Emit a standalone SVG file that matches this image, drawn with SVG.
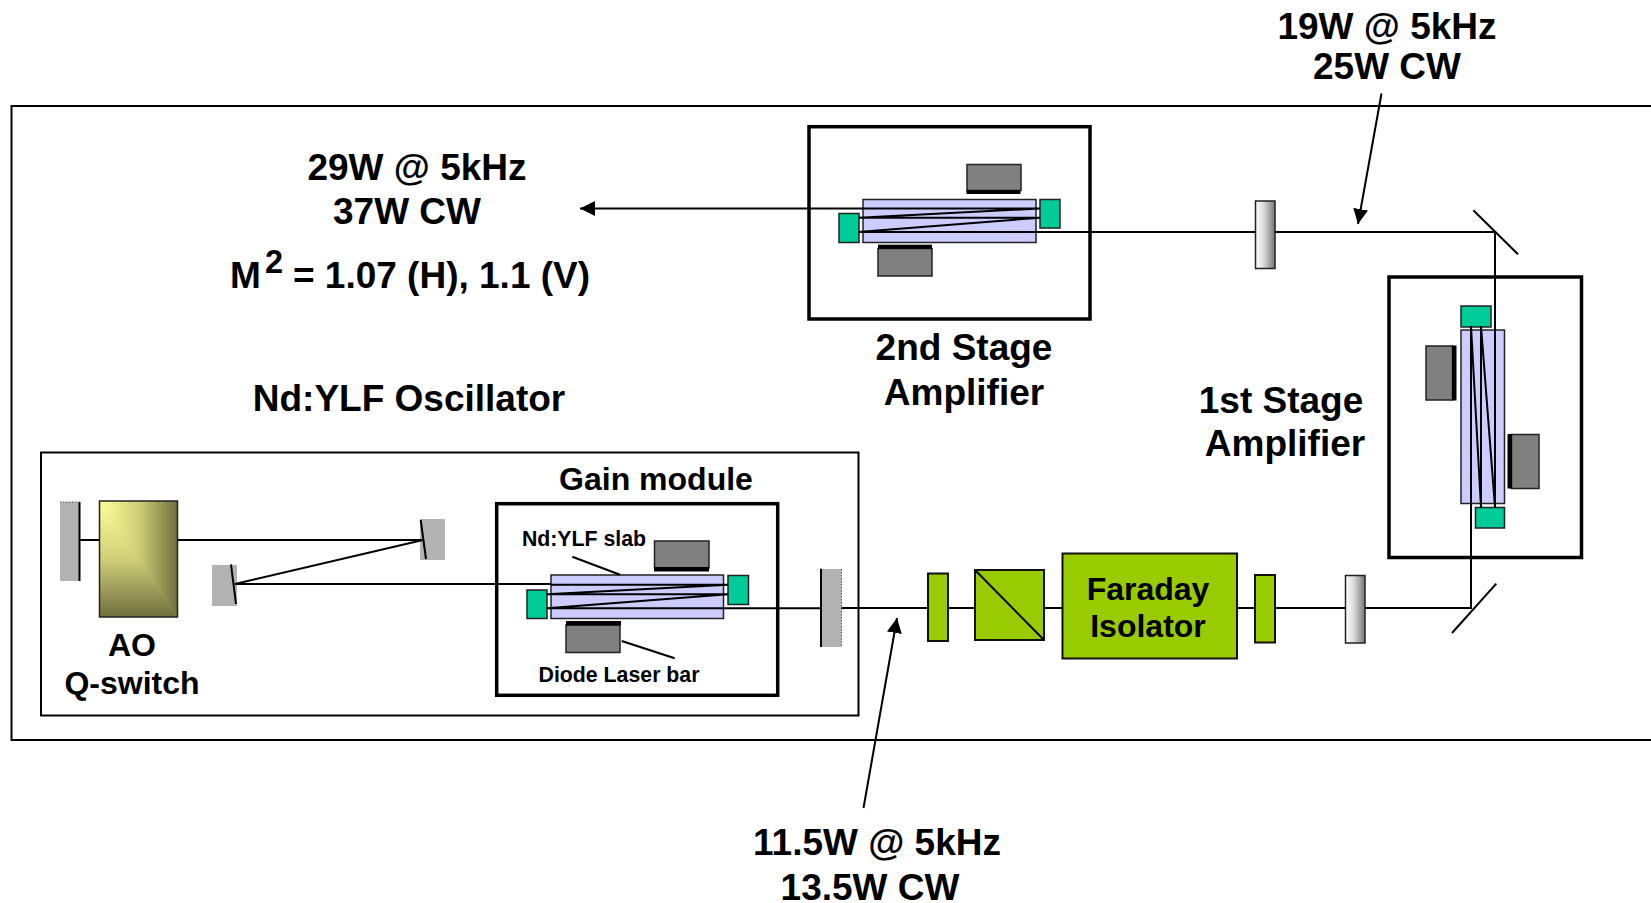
<svg xmlns="http://www.w3.org/2000/svg" width="1651" height="903" viewBox="0 0 1651 903">
<style>
text{font-family:"Liberation Sans",Arial,sans-serif;font-weight:700;fill:#000;text-anchor:middle}
.big{font-size:37px}.mid{font-size:32px}.sm{font-size:21.300px}
.thick{fill:none;stroke:#000;stroke-width:3.5}
.slab{fill:#ccf;stroke:#222;stroke-width:1.5}
.teal{fill:#0c9;stroke:#222;stroke-width:1.5}
.pump{fill:#808080;stroke:#222;stroke-width:1.5}
.lime{fill:#9c0;stroke:#111;stroke-width:2}
.g{fill:#b2b2b2}
.l{fill:none;stroke:#000;stroke-width:2}
.b{fill:none;stroke:#000;stroke-width:2}
.opt{fill:url(#cyl);stroke:#222;stroke-width:1.5}
</style>
<defs>
<linearGradient id="cyl" x1="0" x2="1" y1="0" y2="0"><stop offset="0" stop-color="#fff"/><stop offset="0.4" stop-color="#ddd"/><stop offset="1" stop-color="#777"/></linearGradient>
<linearGradient id="aoh" gradientUnits="userSpaceOnUse" x1="99.500" x2="177.500" y1="0" y2="0"><stop offset="0" stop-color="#ffff99"/><stop offset="0.5" stop-color="#cfcf78"/><stop offset="1" stop-color="#6f6f3f"/></linearGradient>
<linearGradient id="aov" gradientUnits="userSpaceOnUse" x1="0" x2="0" y1="501" y2="617"><stop offset="0" stop-color="#ffff99"/><stop offset="0.5" stop-color="#cfcf78"/><stop offset="1" stop-color="#6f6f3f"/></linearGradient>
<marker id="ah" markerUnits="userSpaceOnUse" markerWidth="16" markerHeight="16" refX="15" refY="7.500" orient="auto"><path d="M0 0L15 7.500L0 15z" fill="#000"/></marker>
</defs>

<g id="frames">
<path id="enclosure" d="M1651 106H11.500V740H1651" class="l"/>
<rect id="oscillator-box" x="41" y="452.500" width="817.500" height="263" class="l"/>
</g>

<g id="qswitch-mirror"><rect class="g" x="60" y="502" width="20" height="79"/><path class="l" d="M79.500 502V581"/><path d="M60 502H80" stroke="#555" stroke-dasharray="1.500 1.500" fill="none"/></g>
<g id="ao-qswitch"><rect x="99.500" y="501" width="78" height="116" fill="#b0b060"/><path d="M99.500 501H177.500V617z" fill="url(#aoh)"/><path d="M99.500 501V617H177.500z" fill="url(#aov)"/><rect x="99.500" y="501" width="78" height="116" fill="none" stroke="#222" stroke-width="1.500"/><text class="mid" x="132" y="656">AO</text><text class="mid" x="132" y="694">Q-switch</text></g>
<g id="fold-mirror-1"><rect class="g" x="420" y="519" width="25" height="41"/><path class="l" d="M420.700 520L426 559"/></g>
<g id="fold-mirror-2"><rect class="g" x="212" y="565" width="25" height="41"/><path class="l" d="M231 564.300L236 604"/></g>

<g id="gain-module">
<rect class="thick" x="496.700" y="503.700" width="281" height="191.600"/>
<rect class="pump" x="654.500" y="541" width="54.500" height="27"/><rect x="654" y="567" width="55" height="4.500"/>
<rect class="slab" x="551" y="575" width="172.500" height="43.500"/>
<rect class="teal" x="527" y="590" width="20" height="28.500"/><rect class="teal" x="728" y="575.500" width="20.500" height="29"/>
<rect class="pump" x="566" y="625" width="54" height="27.500"/><rect x="566" y="621" width="55" height="4.500"/>
<text class="sm" x="584" y="546">Nd:YLF slab</text>
<text class="sm" x="619" y="682">Diode Laser bar</text>
<text class="mid" x="656" y="490">Gain module</text>
</g>
<g id="output-coupler"><rect class="g" x="821" y="569" width="20.500" height="78"/><path class="l" d="M821 568.700V647"/><path d="M841.500 569V647" stroke="#555" stroke-dasharray="1.500 1.500" fill="none"/></g>

<g id="lens-1"><rect class="lime" x="928" y="573.500" width="20" height="67.500"/></g>
<g id="polarizer"><rect class="lime" x="975" y="570" width="69" height="70"/><path class="l" d="M975 570L1044 640"/></g>
<g id="faraday-isolator"><rect class="lime" x="1062.500" y="553.500" width="174.500" height="105"/><text class="mid" x="1148" y="600">Faraday</text><text class="mid" x="1148" y="637">Isolator</text></g>
<g id="lens-2"><rect class="lime" x="1255" y="575" width="20" height="67.500"/></g>
<g id="optic-1"><rect class="opt" x="1345.500" y="575.500" width="19.500" height="67.500"/></g>
<g id="optic-2"><rect class="opt" x="1255.500" y="201" width="19.500" height="67.500"/></g>
<g id="turn-mirror-bottom"><path class="l" d="M1452 633L1496.300 583.700"/></g>
<g id="turn-mirror-top"><path class="l" d="M1473.300 210.300L1518 254.300"/></g>

<g id="first-stage">
<rect class="thick" x="1389" y="277" width="192.500" height="280.500"/>
<rect class="pump" x="1426" y="346" width="26.500" height="54"/><rect x="1452" y="345.500" width="4.500" height="55"/>
<rect class="slab" x="1461" y="330" width="43.500" height="173.500"/>
<rect class="teal" x="1461" y="306" width="30" height="21"/><rect class="teal" x="1475.500" y="507.500" width="29" height="20.500"/>
<rect class="pump" x="1511.500" y="434.500" width="27.500" height="54"/><rect x="1507.500" y="434" width="4.500" height="54.500"/>
<text class="big" x="1281" y="413">1st Stage</text><text class="big" x="1285" y="456">Amplifier</text>
</g>

<g id="second-stage">
<rect class="thick" x="809" y="126.700" width="281" height="192.300"/>
<rect class="pump" x="967" y="164.500" width="54" height="26"/><rect x="966.500" y="190" width="54" height="4"/>
<rect class="slab" x="863" y="199.500" width="173" height="43"/>
<rect class="teal" x="839" y="213.500" width="20" height="29"/><rect class="teal" x="1040" y="199.500" width="20" height="28.500"/>
<rect class="pump" x="878" y="248.500" width="54" height="27.500"/><rect x="878" y="244.700" width="54" height="4"/>
<text class="big" x="964" y="360">2nd Stage</text><text class="big" x="964" y="405">Amplifier</text>
</g>

<g id="connectors">
<path class="b" d="M99 540H80M177 540H423L235 584H551"/>
<path class="b" d="M551 584.700H728L547 594.300H728L547 608.300H821"/>
<path class="b" d="M841.500 608H928M948 608H975M1044 608H1062.500M1237 608H1255M1275 608H1345.500M1365 608H1472"/>
<path class="b" d="M1471 608V326L1481 507.500V326L1495 507.500V232H1275M1255.500 232H858L1040 217.700H859L1040 208.400H580" marker-end="url(#ah)"/>
<path class="l" d="M1381.500 93.500L1358 224" marker-end="url(#ah)"/>
<path class="l" d="M863.500 808L897 618" marker-end="url(#ah)"/>
<path class="l" d="M572.300 556.700L620 574.700M621.700 641L674.700 658.300"/>
</g>

<g id="labels">
<text class="big" x="1387" y="39">19W @ 5kHz</text><text class="big" x="1387" y="79">25W CW</text>
<text class="big" x="417" y="180">29W @ 5kHz</text><text class="big" x="407" y="223.500">37W CW</text>
<text class="big" x="245.500" y="287.500">M</text><text x="274" y="273" style="font-size:32.500px">2</text><text class="big" x="441.500" y="287.500">= 1.07 (H), 1.1 (V)</text>
<text class="big" x="409" y="411">Nd:YLF Oscillator</text>
<text class="big" x="877" y="855">11.5W @ 5kHz</text><text class="big" x="870" y="900">13.5W CW</text>
</g>
</svg>
